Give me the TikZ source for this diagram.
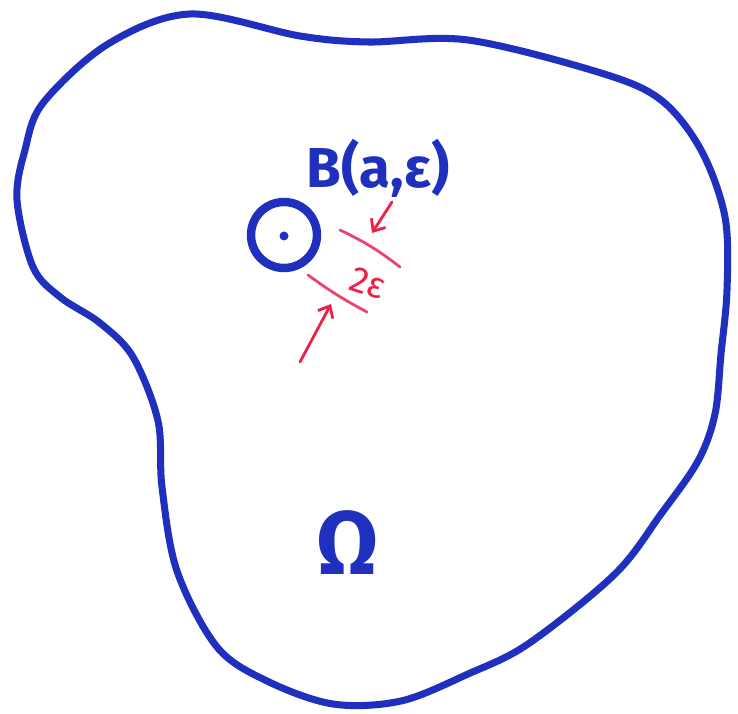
\documentclass[tikz,border=0pt]{standalone}
\usepackage{fontspec}
\setmainfont{Fira Sans}
\usepackage{tikz}
\usetikzlibrary{positioning, arrows.meta}
\definecolor{pen}{RGB}{32,48,190}
\definecolor{redpen}{RGB}{238,32,72}
\definecolor{pinkpen}{RGB}{232,70,110}

\begin{document}
\begin{tikzpicture}[x=0.025cm, y=-0.025cm,
    blob/.style={pen, line width=5pt, line cap=round, line join=round},
    tick/.style={pinkpen, line width=2pt, line cap=round},
    redarrow/.style={redpen, line width=2pt, line cap=round, -{Straight Barb[length=7pt, width=12pt, line width=2pt]}}]
    \useasboundingbox (0,0) rectangle (738,714);

    % The domain Omega
    \draw[blob] plot[smooth cycle, tension=0.55] coordinates {
        (190,14) (300,36) (368,42) (468,40) (601,73) (661,100)
        (701,150) (725,217) (727,290) (721,354) (715,414) (698,461)
        (661,514) (615,574) (528,644) (468,674) (401,701) (333,704)
        (267,681) (217,647) (177,571) (162,487) (158,421) (133,357)
        (100,323) (60,297) (33,267) (17,200) (25,150) (43,103) (108,44)};

    % The small ball and its centre
    \node[circle, draw=pen, line width=6pt, minimum size=66*0.025cm, inner sep=0pt] (ball) at (284,235) {};
    \fill[pen] (284,236) circle (4.5);
    \node[pen, font=\fontsize{40}{44}\selectfont\bfseries] (lbl) at (378,168) {B(a,ε)};

    % Width 2 epsilon
    \coordinate (t1a) at (340,230);
    \coordinate (t1b) at (400,267);
    \coordinate (t2a) at (308,275);
    \coordinate (t2b) at (367,312);
    \draw[tick] (t1a) to[bend left=6] (t1b);
    \draw[tick] (t2a) to[bend right=4] (t2b);
    \node[redpen, font=\fontsize{26}{28}\selectfont, rotate=-18, inner sep=0pt] (diam) at (368,283) {2ε};
    \coordinate (up0) at (392,202);
    \coordinate (up1) at (372,233);
    \coordinate (lo0) at (300,362);
    \coordinate (lo1) at (331,304);
    \draw[redarrow] (up0) -- (up1);
    \draw[redarrow] (lo0) -- (lo1);

    % Name of the domain
    \node[pen, font=\fontsize{64}{70}\selectfont\bfseries] (omega) at (348,543) {Ω};
\end{tikzpicture}
\end{document}
